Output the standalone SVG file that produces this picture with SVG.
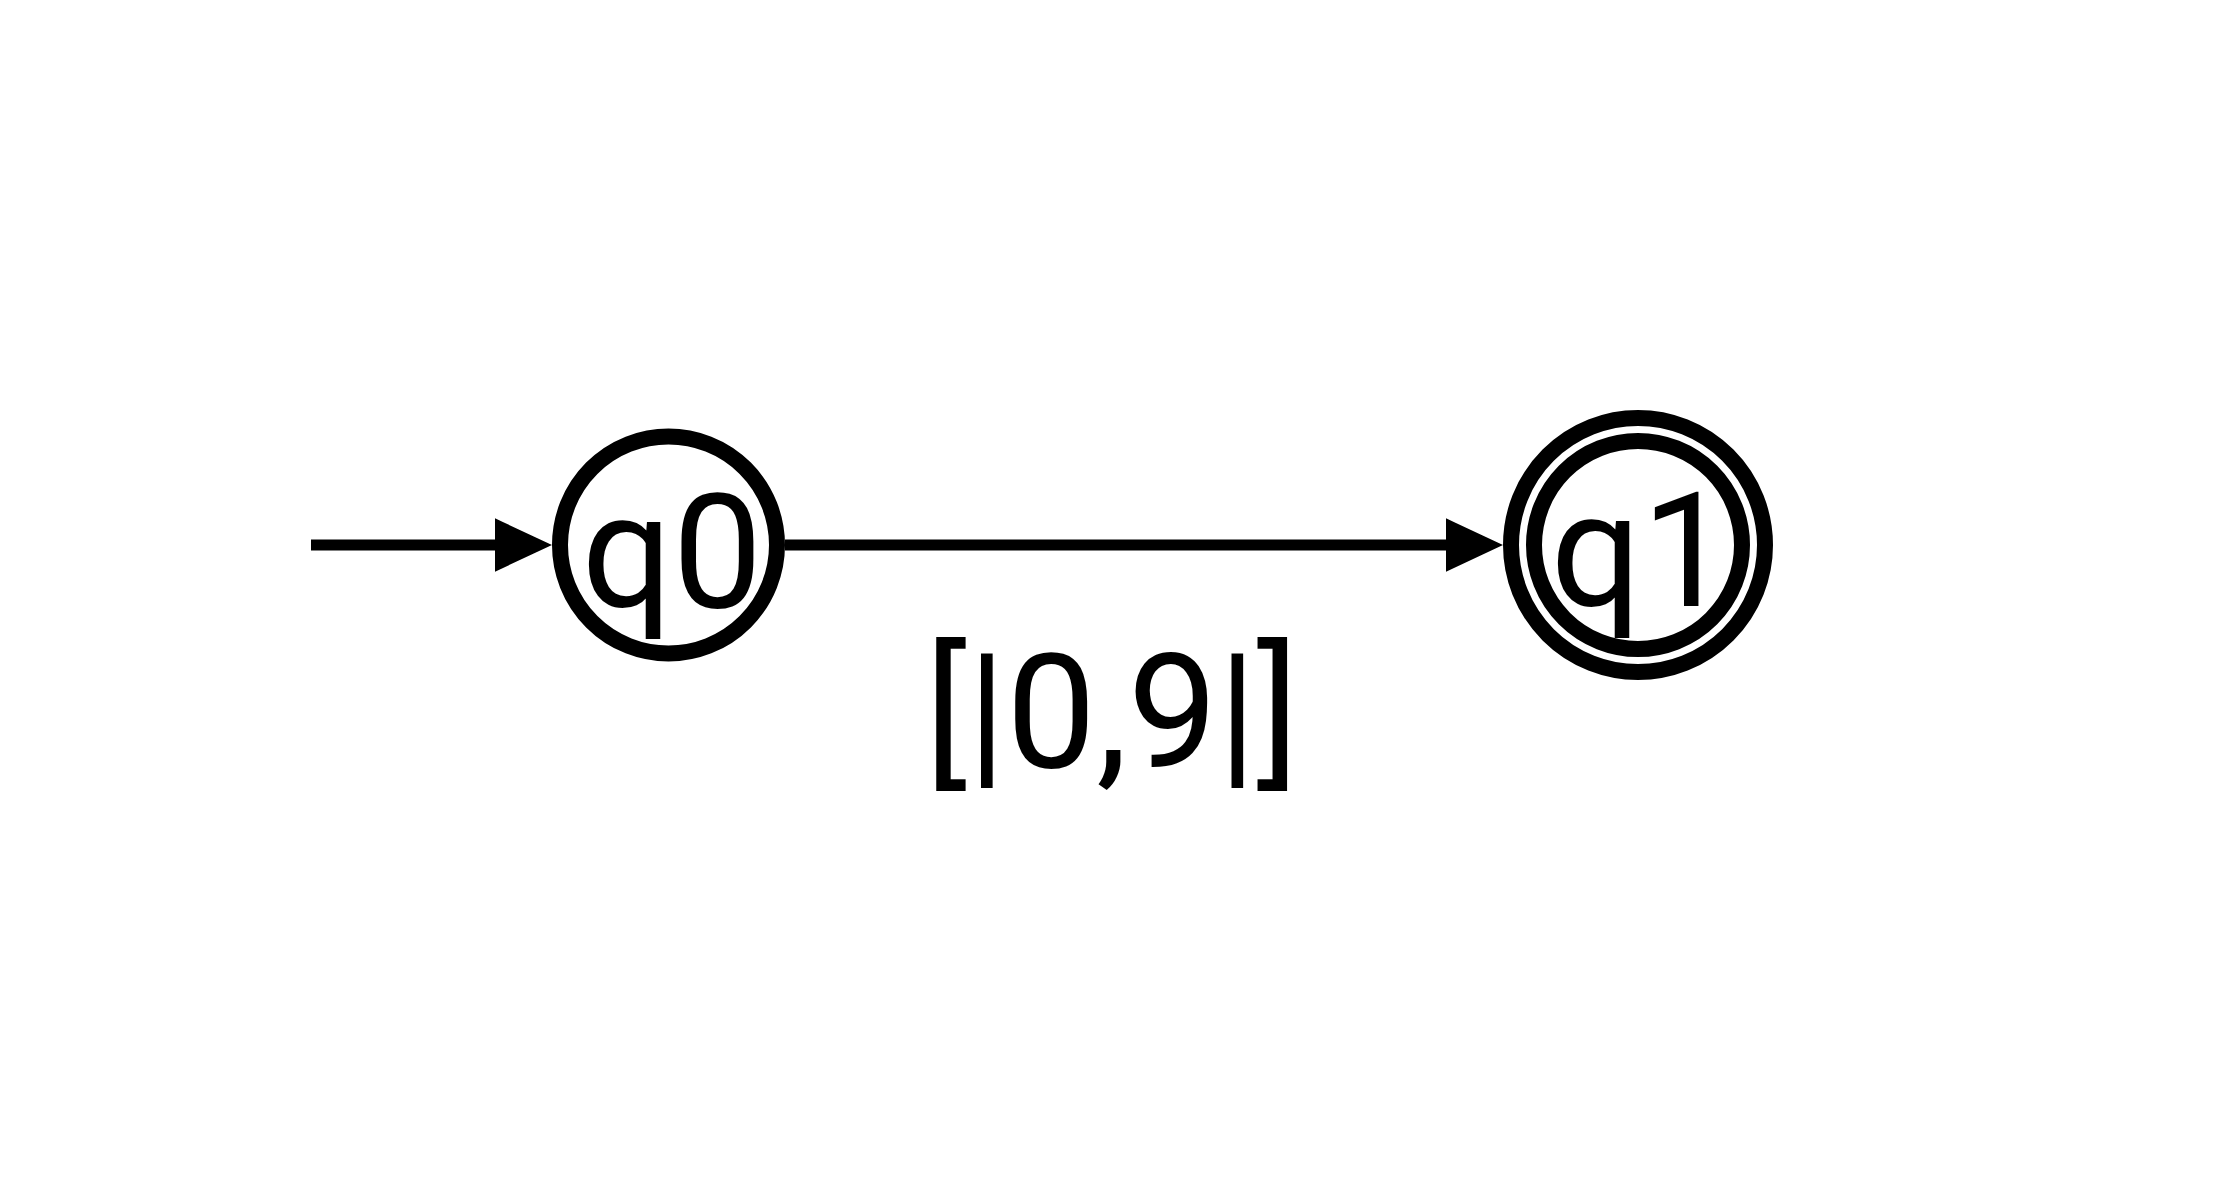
<svg xmlns="http://www.w3.org/2000/svg" width="2228" height="1197" viewBox="0 0 2228 1197">
<style>
.ring{fill:none;stroke:#000;stroke-width:16}
.edge{stroke:#000;stroke-width:11;fill:none}
.head{fill:#000;stroke:#000;stroke-width:11;stroke-linejoin:miter;stroke-miterlimit:10}
</style>
<rect width="2228" height="1197" fill="#fff"/>
<g id="edges">
<line class="edge" x1="311" y1="545" x2="505" y2="545"/>
<polygon class="head" points="500.5,527 539,545 500.5,563"/>
<line class="edge" x1="785" y1="545" x2="1452" y2="545"/>
<polygon class="head" points="1451.5,527 1490,545 1451.5,563"/>
<text x="1112" y="767" text-anchor="middle" font-family="Roboto, Liberation Sans, sans-serif" font-size="160" fill="#000">[|0,9|]</text>
</g>
<g id="q0">
<circle class="ring" cx="668.5" cy="545" r="108.5"/>
<text x="672" y="607" text-anchor="middle" font-family="Roboto, Liberation Sans, sans-serif" font-size="160" fill="#000">q0</text>
</g>
<g id="q1">
<circle class="ring" cx="1638" cy="545" r="127"/>
<circle class="ring" cx="1638" cy="545" r="104"/>
<text x="1641" y="606" text-anchor="middle" font-family="Roboto, Liberation Sans, sans-serif" font-size="160" fill="#000">q1</text>
</g>
</svg>
